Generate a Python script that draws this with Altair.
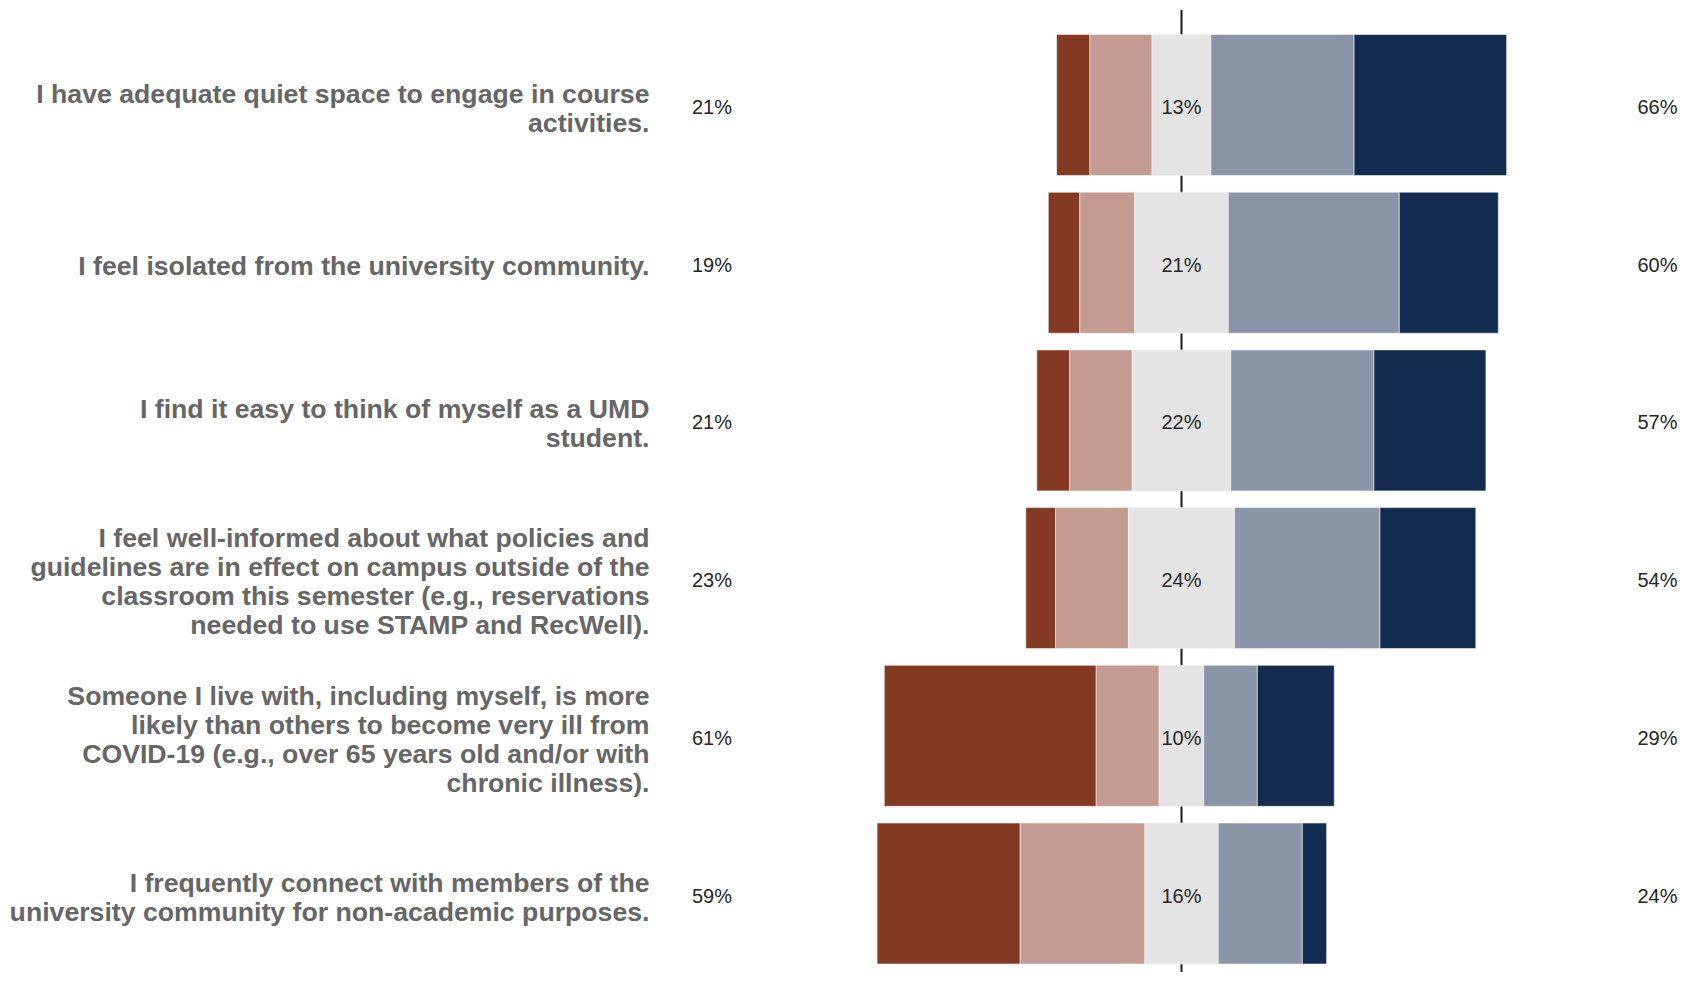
import altair as alt
import pandas as pd

# ---------------- data ----------------
questions = [
    "I have adequate quiet space to engage in course|activities.",
    "I feel isolated from the university community.",
    "I find it easy to think of myself as a UMD|student.",
    "I feel well-informed about what policies and|guidelines are in effect on campus outside of the|classroom this semester (e.g., reservations|needed to use STAMP and RecWell).",
    "Someone I live with, including myself, is more|likely than others to become very ill from|COVID-19 (e.g., over 65 years old and/or with|chronic illness).",
    "I frequently connect with members of the|university community for non-academic purposes.",
]
categories = ["Strongly disagree", "Disagree", "Neutral", "Agree", "Strongly agree"]
strongly_disagree = [7.4, 7.0, 7.3, 6.6, 47.1, 31.8]
disagree = [13.8, 12.2, 13.9, 16.2, 14.0, 27.7]
neutral = [13.1, 20.8, 21.9, 23.6, 9.9, 16.3]
agree = [31.8, 38.0, 31.8, 32.3, 11.9, 18.7]
strongly_agree = [33.9, 22.0, 24.9, 21.3, 17.1, 5.4]

disagree_labels = ["21%", "19%", "21%", "23%", "61%", "59%"]
neutral_labels = ["13%", "21%", "22%", "24%", "10%", "16%"]
agree_labels = ["66%", "60%", "57%", "54%", "29%", "24%"]

colors = ["#843a22", "#c39b90", "#e4e4e4", "#8a96a7", "#122b4f"]

# ---------------- tables ----------------
rows = []
series = [strongly_disagree, disagree, neutral, agree, strongly_agree]
for i, q in enumerate(questions):
    start = -(strongly_disagree[i] + disagree[i] + neutral[i] / 2.0)
    for c, vals in zip(categories, series):
        rows.append({"question": q, "category": c, "start": start,
                     "end": start + vals[i], "order": categories.index(c)})
        start += vals[i]
bars_df = pd.DataFrame(rows)

labels_df = pd.DataFrame({
    "question": questions,
    "dis": disagree_labels,
    "neu": neutral_labels,
    "agr": agree_labels,
})
zero_df = pd.DataFrame({"x": [0]})

# ---------------- scales ----------------
H = 962
FONT = "Liberation Sans"
LH = 29
BASE = 4.5
yscale = alt.Scale(type="band", domain=questions, paddingInner=0.106,
                   paddingOuter=0.103, align=0.754)
xscale = alt.Scale(domain=[-93, 93], nice=False, zero=False)

# centre multi-line labels on their band
label_offset = {
    "condition": [
        {"test": "length(split(datum.value, '|')) == 2", "value": BASE - LH * 0.5},
        {"test": "length(split(datum.value, '|')) == 4", "value": BASE - LH * 1.5},
    ],
    "value": BASE,
}

# ---------------- left panel (question labels + disagree totals) ----------------
left = alt.Chart(labels_df).mark_text(
    align="left", baseline="middle", fontSize=20, font=FONT, color="#262626", dy=3
).encode(
    y=alt.Y("question:N", sort=questions, scale=yscale,
            axis=alt.Axis(title=None, domain=False, ticks=False, labelPadding=43,
                          labelFont=FONT, labelFontSize=26.67, labelFontWeight="bold",
                          labelColor="#666666", labelLimit=900, labelLineHeight=LH,
                          labelOffset=label_offset, labelExpr="split(datum.label, '|')")),
    x=alt.value(0),
    text="dis:N",
).properties(width=70.5, height=H)

# ---------------- middle panel (diverging bars) ----------------
rule = alt.Chart(zero_df).mark_rule(color="#1a1a1a", strokeWidth=2).encode(
    x=alt.X("x:Q", scale=xscale, axis=None)
)
bars = alt.Chart(bars_df).mark_bar(stroke="#f2f2f2", strokeWidth=1, strokeOpacity=0.6).encode(
    y=alt.Y("question:N", sort=questions, scale=yscale, axis=None),
    x=alt.X("start:Q", scale=xscale, axis=None),
    x2="end:Q",
    color=alt.Color("category:N", scale=alt.Scale(domain=categories, range=colors), legend=None),
    order="order:Q",
)
neutral_text = alt.Chart(labels_df).mark_text(
    align="center", baseline="middle", fontSize=20, font=FONT, color="#262626", dy=3
).encode(
    y=alt.Y("question:N", sort=questions, scale=yscale, axis=None),
    x=alt.datum(0),
    text="neu:N",
)
middle = alt.layer(rule, bars, neutral_text).properties(width=837, height=H)

# ---------------- right panel (agree totals) ----------------
right = alt.Chart(labels_df).mark_text(
    align="left", baseline="middle", fontSize=20, font=FONT, color="#262626", dy=3
).encode(
    y=alt.Y("question:N", sort=questions, scale=yscale, axis=None),
    x=alt.value(37.5),
    text="agr:N",
).properties(width=80, height=H)

chart = alt.hconcat(left, middle, right, spacing=0).properties(
    padding={"left": 1, "top": 1, "right": 0, "bottom": 0},
    background="white",
).configure_view(stroke=None)

chart.save("out.html", embed_options={"renderer": "svg", "actions": False})
